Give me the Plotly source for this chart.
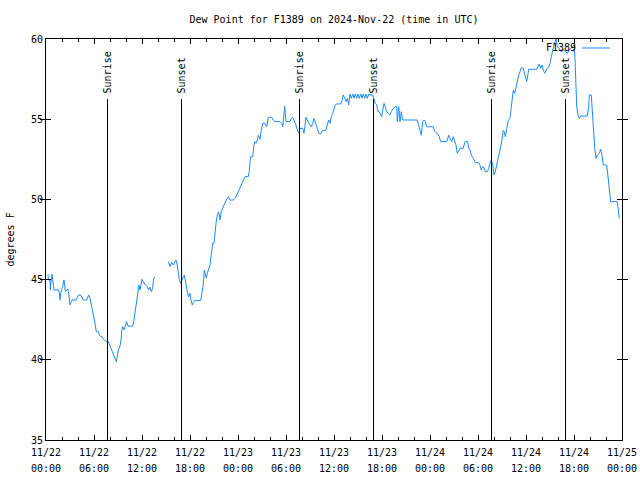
import plotly.graph_objects as go
import pandas as pd

# ---------------- data ----------------
base_time = "2024-11-22 00:00"

seg1_hours = [
    0.25, 0.30, 0.50, 0.55, 0.58, 0.75, 0.83, 0.92, 1.00, 1.58,
    1.67, 1.75, 1.83, 2.08, 2.25, 2.33, 2.42, 2.58, 2.75, 2.83,
    3.00, 3.17, 3.25, 3.75, 3.92, 4.08, 4.33, 4.50, 4.67, 5.08,
    5.25, 5.33, 5.50, 5.58, 5.75, 5.92, 6.08, 6.17, 6.25, 6.33,
    6.58, 6.67, 6.83, 7.00, 7.08, 7.25, 7.50, 7.79, 8.00, 8.21,
    8.42, 8.63, 8.79, 8.88, 9.04, 9.25, 9.38, 9.46, 9.58, 9.75,
    9.92, 10.08, 10.25, 10.83, 10.96, 11.13, 11.25, 11.38, 11.50, 11.63,
    11.75, 11.92, 12.00, 12.17, 12.42, 12.67, 12.83, 13.00, 13.17, 13.33,
    13.42, 13.58,
]
seg1_vals = [
    45.33, 44.98, 44.98, 44.35, 44.66, 45.33, 44.98, 44.66, 44.35, 44.35,
    44.15, 43.73, 44.15, 44.56, 44.98, 44.66, 44.25, 44.35, 44.40, 44.15,
    43.42, 43.62, 43.73, 43.73, 43.93, 44.04, 44.04, 43.83, 43.73, 43.73,
    43.93, 44.04, 43.83, 43.52, 43.21, 42.79, 42.48, 42.17, 41.86, 41.75,
    41.75, 41.55, 41.45, 41.45, 41.34, 41.24, 41.13, 41.13, 40.86, 40.61,
    40.34, 40.16, 39.88, 40.09, 40.61, 40.86, 41.23, 41.82, 42.07, 41.86,
    42.17, 42.38, 42.10, 42.10, 42.38, 43.00, 43.21, 43.73, 44.35, 44.66,
    44.35, 44.81, 45.02, 44.87, 44.66, 44.56, 44.35, 44.52, 44.25, 44.46,
    44.93, 45.18,
]

gap_hour = 14.4

seg2_hours = [
    15.29, 15.50, 15.71, 15.91, 16.25, 16.41, 16.58, 16.67, 16.83, 16.96,
    17.16, 17.29, 17.46, 17.66, 17.83, 18.00, 18.08, 18.29, 18.41, 18.58,
    19.33, 19.50, 19.66, 19.79, 20.04, 20.16, 20.33, 20.50, 20.63, 20.71,
    20.83, 21.00, 21.13, 21.25, 21.41, 21.58, 21.75, 21.91, 22.08, 22.25,
    22.41, 22.58, 22.79, 23.00, 23.41, 23.63, 23.84, 24.04, 24.25, 24.46,
    24.66, 24.88, 25.29, 25.41, 25.50, 25.59, 25.84, 25.91, 26.00, 26.13,
    26.25, 26.41, 26.54, 26.66, 26.75, 26.84, 27.00, 27.09, 27.38, 27.59,
    27.79, 28.21, 28.41, 28.63, 29.25, 29.46, 29.59, 29.75, 29.84, 29.91,
    30.00, 30.50, 30.66, 30.84, 31.00, 31.25, 31.41, 31.59, 31.75, 32.09,
    32.25, 32.41, 32.50, 32.66, 32.84, 33.16, 33.34, 33.50, 33.66, 33.91,
    34.09, 34.34, 34.50, 35.00, 35.16, 35.34, 35.50, 35.66, 35.84, 36.00,
    36.16, 36.34, 36.84, 37.00, 37.16, 37.34, 37.50, 37.66, 37.84, 38.00,
    38.16, 38.34, 38.50, 38.66, 38.84, 39.00, 39.16, 39.34, 39.50, 39.66,
    39.84, 40.00, 40.16, 40.34, 40.50, 40.84, 41.00, 41.16, 41.34, 41.50,
    41.66, 41.84, 41.96, 42.09, 42.25, 42.41, 42.59, 42.75, 43.00, 43.16,
    43.41, 43.66, 43.84, 43.91, 44.09, 44.25, 44.41, 44.59, 46.41, 46.59,
    46.75, 46.91, 47.09, 47.25, 47.41, 47.59, 48.41, 48.59, 48.91, 49.16,
    49.34, 50.09, 50.34, 50.50, 50.71, 50.91, 51.13, 51.25, 51.41, 51.59,
    51.75, 52.16, 52.38, 52.71, 52.84, 53.00, 53.16, 53.41, 53.66, 54.09,
    54.25, 54.41, 54.59, 54.75, 54.91, 55.16, 55.34, 55.50, 55.66, 55.84,
    56.00, 56.16, 56.34, 56.59, 56.75, 56.88, 56.96, 57.16, 57.29, 57.41,
    57.59, 57.79, 58.00, 58.13, 58.25, 58.41, 58.59, 58.75, 58.91, 59.09,
    59.25, 59.41, 59.66, 59.84, 60.09, 60.34, 61.34, 61.50, 61.66, 61.84,
    62.00, 62.16, 62.34, 62.66, 62.84, 63.00, 63.16, 63.34, 63.50, 63.63,
    63.75, 63.91, 64.16, 64.41, 64.66, 64.91, 65.16, 65.41, 65.66, 65.84,
    66.00, 66.13, 66.25, 66.34, 66.50, 66.66, 66.84, 67.66, 67.84, 67.91,
    68.16, 68.25, 68.41, 68.59, 68.75, 68.91, 69.16, 69.34, 69.50, 69.66,
    70.09, 70.25, 70.41, 70.59, 71.41, 71.59, 71.66,
]
seg2_vals = [
    46.12, 45.81, 46.08, 45.91, 46.22, 45.91, 45.29, 44.98, 44.77, 44.98,
    45.18, 45.29, 44.77, 44.25, 43.93, 44.14, 43.83, 43.42, 43.56, 43.69,
    43.69, 44.14, 44.66, 45.60, 45.08, 45.39, 45.60, 45.91, 46.43, 46.85,
    47.26, 47.26, 48.00, 48.50, 49.03, 49.23, 48.72, 49.23, 49.45, 49.65,
    49.86, 50.00, 50.17, 49.96, 49.96, 50.07, 50.27, 50.48, 50.69, 50.96,
    51.20, 51.42, 51.42, 51.73, 52.35, 52.66, 52.66, 53.08, 53.39, 53.60,
    53.50, 53.70, 54.00, 53.90, 53.75, 54.12, 54.43, 54.74, 54.74, 54.53,
    55.12, 55.12, 54.95, 54.85, 54.85, 54.74, 54.53, 55.47, 55.82, 55.37,
    54.85, 54.85, 55.05, 55.12, 54.95, 54.64, 54.33, 54.12, 54.43, 54.43,
    54.12, 54.74, 55.12, 54.95, 54.74, 54.53, 54.74, 55.05, 54.85, 54.43,
    54.12, 54.08, 54.28, 54.33, 54.64, 54.95, 54.74, 55.16, 55.37, 55.62,
    55.89, 55.95, 55.95, 56.15, 56.51, 56.30, 56.09, 56.30, 55.89, 56.57,
    56.30, 56.57, 56.30, 56.57, 56.30, 56.57, 56.30, 56.57, 56.30, 56.57,
    56.30, 56.57, 56.30, 56.57, 56.51, 56.51, 56.30, 55.99, 55.89, 55.47,
    55.47, 55.26, 55.16, 55.57, 55.99, 55.78, 55.47, 55.37, 55.26, 55.47,
    55.68, 55.78, 55.78, 54.85, 55.78, 54.85, 55.47, 54.95, 54.95, 54.64,
    54.22, 54.00, 54.85, 54.95, 54.85, 54.53, 54.53, 54.22, 54.12, 53.91,
    53.60, 53.60, 54.00, 53.81, 53.60, 53.91, 53.60, 53.39, 52.87, 53.08,
    53.19, 53.19, 53.60, 53.60, 53.19, 53.08, 52.77, 52.56, 52.29, 52.29,
    52.14, 51.83, 52.04, 52.00, 51.73, 51.73, 51.94, 52.25, 52.46, 52.14,
    51.52, 51.73, 52.14, 52.56, 52.90, 53.40, 53.60, 54.30, 54.22, 53.91,
    54.43, 54.95, 55.05, 55.68, 55.99, 56.82, 56.61, 57.03, 57.34, 57.76,
    57.96, 58.21, 58.17, 57.76, 57.34, 58.11, 58.11, 58.27, 58.44, 58.17,
    58.38, 58.07, 57.86, 58.17, 58.27, 58.48, 58.99, 59.31, 59.63, 59.83,
    60.00, 59.52, 59.42, 59.21, 59.31, 59.25, 59.10, 59.31, 59.42, 59.56,
    59.63, 58.69, 57.24, 55.78, 55.26, 55.05, 55.20, 55.20, 55.78, 56.51,
    56.51, 55.78, 54.12, 53.19, 52.56, 52.77, 52.87, 53.12, 52.77, 52.14,
    52.14, 51.42, 50.79, 49.86, 49.86, 49.13, 48.82,
]
assert len(seg1_hours) == len(seg1_vals)
assert len(seg2_hours) == len(seg2_vals)

sun_hours = [7.69, 16.94, 31.69, 40.94, 55.69, 64.94]
sun_labels = ["Sunrise", "Sunset", "Sunrise", "Sunset", "Sunrise", "Sunset"]
sun_line_top = 56.26
sun_label_base = 56.45

tick_hours = [0, 6, 12, 18, 24, 30, 36, 42, 48, 54, 60, 66, 72]
tick_dates = ["11/22", "11/22", "11/22", "11/22", "11/23", "11/23", "11/23",
              "11/23", "11/24", "11/24", "11/24", "11/24", "11/25"]
tick_times = ["00:00", "06:00", "12:00", "18:00", "00:00", "06:00", "12:00",
              "18:00", "00:00", "06:00", "12:00", "18:00", "00:00"]
y_range = [35, 60]
series_name = "F1389"
title_text = "Dew Point for F1389 on 2024-Nov-22 (time in UTC)"
y_title = "degrees F"

# ---------------- build ----------------
base = pd.Timestamp(base_time)


def t(h):
    return base + pd.Timedelta(hours=h)


x = [t(h) for h in seg1_hours] + [t(gap_hour)] + [t(h) for h in seg2_hours]
y = seg1_vals + [None] + seg2_vals

FONT = "DejaVu Sans Mono, monospace"
LINE_COLOR = "#1a8cff"
TFONT = dict(family=FONT, size=10, color="black")

fig = go.Figure()
fig.add_trace(go.Scatter(
    x=x, y=y, mode="lines", name=series_name,
    line=dict(color=LINE_COLOR, width=1, shape="linear"),
    connectgaps=False, showlegend=False,
))
# carrier trace so the second (time-of-day) label row is drawn
fig.add_trace(go.Scatter(x=[t(0), t(72)], y=[None, None], xaxis="x2",
                         mode="lines", showlegend=False, hoverinfo="skip"))

for h, lab in zip(sun_hours, sun_labels):
    fig.add_shape(type="line", xref="x", yref="y",
                  x0=t(h), x1=t(h), y0=y_range[0], y1=sun_line_top,
                  line=dict(color="black", width=1))
    fig.add_annotation(x=t(h), y=sun_label_base, xref="x", yref="y",
                       text=lab, textangle=-90, showarrow=False,
                       xanchor="center", yanchor="bottom", font=TFONT)

# legend (gnuplot style: text left of the line sample)
fig.add_annotation(x=0.9236, y=0.9776, xref="paper", yref="paper",
                   text=series_name, showarrow=False, xanchor="right",
                   yanchor="middle", font=TFONT)
fig.add_shape(type="line", xref="paper", yref="paper",
              x0=0.9306, x1=0.979, y0=0.9776, y1=0.9776,
              line=dict(color=LINE_COLOR, width=1))

# y-axis title placed like gnuplot (far left)
fig.add_annotation(x=-0.0625, y=0.5, xref="paper", yref="paper",
                   text=y_title, textangle=-90, showarrow=False,
                   xanchor="center", yanchor="middle", font=TFONT)

fig.update_layout(
    width=640, height=480,
    margin=dict(l=46, r=18, t=39, b=40, pad=0, autoexpand=False),
    paper_bgcolor="white", plot_bgcolor="white",
    font=TFONT,
    title=dict(text=title_text, x=0.5, xref="paper", xanchor="center",
               y=1 - 19 / 480, yref="container", yanchor="middle",
               font=TFONT),
    showlegend=False,
    xaxis=dict(
        type="date", range=[t(0), t(72)], automargin=False,
        tickvals=[t(h) for h in tick_hours], ticktext=tick_dates,
        ticklabelstandoff=3,
        ticks="inside", ticklen=5, tickcolor="black", tickwidth=1,
        minor=dict(dtick=2 * 3600 * 1000, tick0=t(0), ticks="inside",
                   ticklen=3, tickcolor="black", tickwidth=1, showgrid=False),
        showline=True, linecolor="black", linewidth=1, mirror="allticks",
        showgrid=False, zeroline=False, tickfont=TFONT,
    ),
    xaxis2=dict(
        type="date", range=[t(0), t(72)], automargin=False,
        overlaying="x", anchor="y", side="bottom",
        tickvals=[t(h) for h in tick_hours], ticktext=tick_times,
        ticklabelstandoff=21, ticks="",
        showline=False, showgrid=False, zeroline=False, tickfont=TFONT,
    ),
    yaxis=dict(
        range=y_range, dtick=5, tick0=35, automargin=False,
        ticks="inside", ticklen=5, tickcolor="black", tickwidth=1,
        showline=True, linecolor="black", linewidth=1, mirror="allticks",
        showgrid=False, zeroline=False, tickfont=TFONT,
    ),
)

fig.write_html("out.html")
